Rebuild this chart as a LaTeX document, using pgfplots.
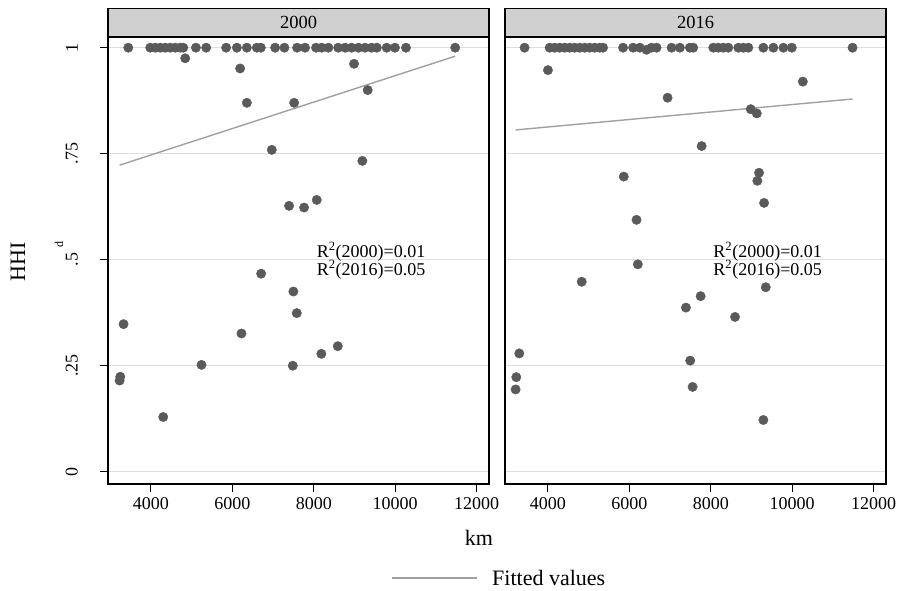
\documentclass[border=0pt]{standalone}
\usepackage{pgfplots}
\pgfplotsset{compat=1.18}
\usepackage{fontspec}
\setmainfont{Liberation Serif}
\definecolor{mk}{RGB}{90,90,90}
\definecolor{fitc}{RGB}{160,160,160}
\definecolor{hdr}{RGB}{208,208,208}
\definecolor{grd}{RGB}{222,222,222}

\pgfplotsset{panel/.style={
  scale only axis, width=381pt, height=447pt,
  xmin=2945, xmax=12305, ymin=-0.029, ymax=1.0252,
  xtick={4000,6000,8000,10000,12000},
  scaled x ticks=false,
  xticklabels={4000,6000,8000,10000,12000},
  ytick={0,0.25,0.5,0.75,1},
  yticklabels={0,.25,.5,.75,1},
  ymajorgrids, grid style={grd, line width=1.5pt},
  axis line style={line width=1.3pt},
  tick style={black, line width=1pt},
  tick align=outside, major tick length=8pt,
  xtick pos=lower, ytick pos=left,
  /pgf/number format/assume math mode=true,
  /pgf/number format/1000 sep={},
  tick label style={font=\fontsize{18}{20}\selectfont},
  xticklabel style={inner ysep=5pt},
  yticklabel style={rotate=90, anchor=south, inner ysep=22pt},
}}

\begin{document}
\begin{tikzpicture}[x=1pt,y=1pt]
\useasboundingbox (0,0) rectangle (899,590);

% ---------- 2000 ----------
\begin{axis}[panel, at={(108pt,106pt)}, anchor=south west]
\addplot[only marks, mark=*, mark size=4.7pt, mark options={fill=mk, draw=mk}] coordinates {
(3443,1)(3983,1)(4106,1)(4228,1)(4351,1)(4474,1)(4597,1)(4720,1)(4794,1)
(5104,1)(5357,1)(5848,1)(6111,1)(6356,1)(6601,1)(6699,1)(7050,1)(7279,1)
(7590,1)(7786,1)(8056,1)(8196,1)(8359,1)(8600,1)(8770,1)(8930,1)(9100,1)
(9260,1)(9420,1)(9550,1)(9791,1)(9995,1)(10265,1)(11475,1)
(4842,0.975)(6191,0.951)(8990,0.962)(6356,0.870)(7517,0.870)(9325,0.900)
(6969,0.759)(9194,0.733)(7394,0.627)(7762,0.623)(8073,0.641)
(6707,0.467)(7500,0.425)(7583,0.374)(3327,0.348)(6224,0.326)
(8589,0.296)(8187,0.278)(5242,0.252)(7484,0.250)(3247,0.224)(3230,0.215)(4302,0.129)
};
\addplot[fitc, line width=1.4pt] coordinates {(3230,0.723)(11475,0.980)};
\node[anchor=west, inner sep=0pt, font=\fontsize{18}{20}\selectfont] at (axis cs:8073,0.519) {R\textsuperscript{2}(2000)=0.01};
\node[anchor=west, inner sep=0pt, font=\fontsize{18}{20}\selectfont] at (axis cs:8073,0.476) {R\textsuperscript{2}(2016)=0.05};
\end{axis}

% ---------- 2016 ----------
\begin{axis}[panel, at={(505pt,106pt)}, anchor=south west, yticklabels={}, ytick style={draw=none}]
\addplot[only marks, mark=*, mark size=4.7pt, mark options={fill=mk, draw=mk}] coordinates {
(3426,1)(4042,1)(4165,1)(4288,1)(4411,1)(4534,1)(4657,1)(4780,1)(4903,1)(5026,1)
(5149,1)(5272,1)(5354,1)(5846,1)(6092,1)(6257,1)(6422,0.995)(6545,1)(6668,1)
(7037,1)(7241,1)(7487,1)(7569,1)(8062,1)(8185,1)(8308,1)(8431,1)(8677,1)
(8800,1)(8923,1)(9292,1)(9538,1)(9785,1)(9991,1)(11483,1)
(4000,0.947)(10262,0.920)(6939,0.882)(8982,0.855)(9130,0.845)(7776,0.768)
(5863,0.696)(9186,0.705)(9145,0.686)(9310,0.634)(6176,0.594)(6208,0.489)
(4829,0.448)(9351,0.435)(7751,0.414)(7390,0.387)(8596,0.365)
(3296,0.279)(7495,0.262)(3222,0.223)(3205,0.194)(7554,0.200)(9292,0.122)
};
\addplot[fitc, line width=1.4pt] coordinates {(3205,0.806)(11483,0.879)};
\node[anchor=west, inner sep=0pt, font=\fontsize{18}{20}\selectfont] at (axis cs:8062,0.519) {R\textsuperscript{2}(2000)=0.01};
\node[anchor=west, inner sep=0pt, font=\fontsize{18}{20}\selectfont] at (axis cs:8062,0.476) {R\textsuperscript{2}(2016)=0.05};
\end{axis}

% ---------- headers ----------
\draw[fill=hdr, line width=1.3pt] (108,553) rectangle (489,581.7);
\draw[fill=hdr, line width=1.3pt] (505,553) rectangle (886,581.7);
\node[font=\fontsize{18.5}{20}\selectfont] at (298.5,567.5) {2000};
\node[font=\fontsize{18.5}{20}\selectfont] at (695.5,567.5) {2016};

% ---------- axis titles ----------
\node[rotate=90, font=\fontsize{22}{24}\selectfont] at (18,328) {HHI};
\node[rotate=90, font=\fontsize{12}{14}\selectfont] at (59,346) {d};
\node[font=\fontsize{22}{24}\selectfont] at (479,52) {km};

% ---------- legend ----------
\draw[fitc, line width=1.6pt] (392,12) -- (477,12);
\node[anchor=west, inner sep=0pt, font=\fontsize{22}{24}\selectfont] at (492,12) {Fitted values};
\end{tikzpicture}
\end{document}
